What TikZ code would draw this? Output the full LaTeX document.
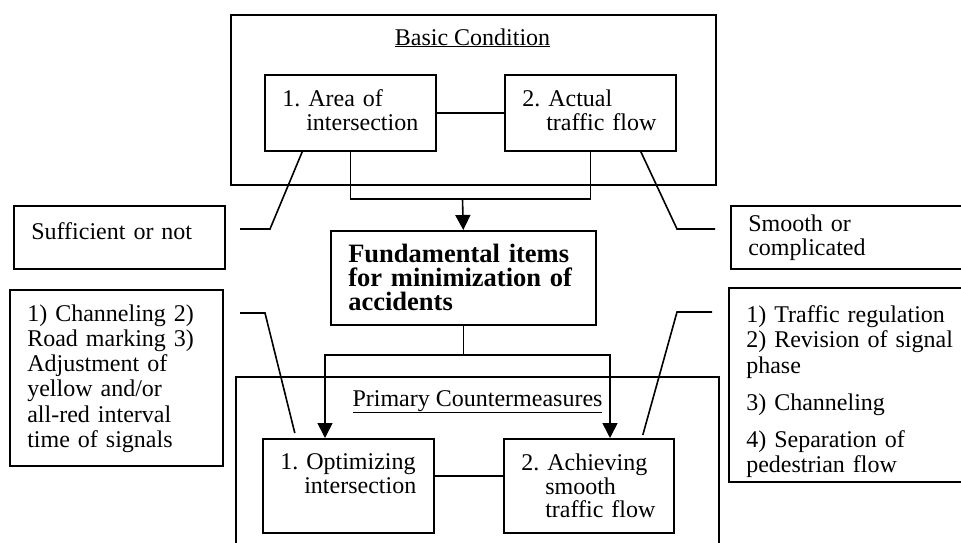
\documentclass[tikz,border=0pt]{standalone}
\usepackage{fontspec}
\setmainfont{Liberation Serif}
\usetikzlibrary{arrows.meta}
% invisible rules that fix the height of a first line / depth of a last line
\newcommand{\TopGap}[1]{\rule{0pt}{#1pt}}
\newcommand{\BotGap}[1]{\rule[-#1pt]{0pt}{#1pt}}
\begin{document}
\frenchspacing
\hyphenpenalty=10000
\exhyphenpenalty=10000
\begin{tikzpicture}[x=1pt,y=-1pt,
  frame/.style={draw,line width=1.6pt,inner sep=0pt,anchor=north west},
  box/.style={draw,line width=1.6pt,inner xsep=17.5pt,inner ysep=0pt,
    align=left,anchor=north west,font=\fontsize{24}{24}\selectfont},
  listbox/.style={box,font=\fontsize{24}{25.2}\selectfont},
  boldbox/.style={box,font=\bfseries\fontsize{26.5}{23.6}\selectfont},
  title/.style={anchor=base,inner sep=0pt,font=\fontsize{24}{24}\selectfont},
  conn/.style={line width=1.6pt},
  tip/.style={conn,-{Triangle[width=15pt,length=15pt]}}]
\path[use as bounding box] (0,0) rectangle (961,542);
\clip (0,0) rectangle (961,542);

% ---- basic condition ----
\node[frame,minimum width=485pt,minimum height=170pt] (basic) at (230,14) {};
\node[title] (basictitle) at (472.5,45) {\underline{Basic Condition}};
\node[box,text width=136pt,minimum height=76pt] (b1) at (264,74)
  {\TopGap{18}1. Area of\\\hspace*{1em}intersection\BotGap{6}};
\node[box,text width=136pt,minimum height=76pt] (b2) at (504,74)
  {\TopGap{18}2. Actual\\\hspace*{1em}traffic flow\BotGap{6}};

% ---- central item ----
\node[boldbox,text width=230pt,minimum height=94pt] (fund) at (330,230)
  {\TopGap{18}Fundamental items\\for minimization of\\accidents\BotGap{1}};

% ---- side notes, upper row ----
\node[box,text width=176pt,minimum height=63pt] (suff) at (13,205)
  {\TopGap{18}Sufficient or not\BotGap{13}};
\node[box,text width=225pt,minimum height=63pt] (smooth) at (730,205)
  {\TopGap{18}Smooth or\\complicated\BotGap{6}};

% ---- primary countermeasures ----
\node[frame,minimum width=483pt,minimum height=200pt] (prim) at (235,376) {};
\node[title] (primtitle) at (477.5,406) {\underline{Primary Countermeasures}};
\node[box,text width=136pt,minimum height=94pt] (opt) at (262,438)
  {\TopGap{18}1.~Optimizing\\\hspace*{1em}intersection\BotGap{26}};
\node[box,text width=135pt,minimum height=94pt,font=\fontsize{24}{23.5}\selectfont] (ach) at (503,438)
  {\TopGap{18}2. Achieving\\\hspace*{1em}smooth\\\hspace*{1em}traffic flow\BotGap{1}};

% ---- side notes, lower row ----
\node[listbox,text width=178pt,minimum height=176pt] (llist) at (9,289)
  {\TopGap{18}1) Channeling 2)\\Road marking 3)\\Adjustment of\\yellow and/or\\all-red interval\\time of signals\BotGap{2}};
\node[listbox,text width=225pt,minimum height=194pt] (rlist) at (728,287)
  {\TopGap{31}1) Traffic regulation\\2) Revision of signal\\phase\\[12pt]3) Channeling\\[12pt]4) Separation of\\pedestrian flow\BotGap{5}};

% ---- connectors ----
\coordinate (j1) at (462.5,199);
\coordinate (s1) at (325,355);
\coordinate (s2) at (610,355);
\draw[conn] (b1.east) -- (b2.west);
\draw[conn] (b1.south) |- (j1) -| (b2.south);
\draw[tip] (j1) -- (fund.north);
\draw[conn] (fund.south) -- (fund.south |- s1);
\draw[tip] (s2) -- (s1) -- (s1 |- opt.north);
\draw[tip] (s1) -- (s2) -- (s2 |- ach.north);
\draw[conn] ([yshift=10pt]opt.east) -- ([yshift=10pt]opt.east -| ach.west);

% ---- leader lines to the notes ----
\coordinate (k1) at (270,229);  \coordinate (e1) at (240,229);
\coordinate (k2) at (677,229);  \coordinate (e2) at (715,229);
\coordinate (k3) at (265,313);  \coordinate (e3) at (240,313);
\coordinate (k4) at (677,312);  \coordinate (e4) at (712,312);
\draw[conn] ([xshift=-48pt]b1.south) -- (k1) -- (e1);
\draw[conn] ([xshift=50.5pt]b2.south) -- (k2) -- (e2);
\draw[conn] ([xshift=-53.5pt,yshift=5pt]opt.north) -- (k3) -- (e3);
\draw[conn] ([xshift=54pt,yshift=3pt]ach.north) -- (k4) -- (e4);
\end{tikzpicture}
\end{document}
